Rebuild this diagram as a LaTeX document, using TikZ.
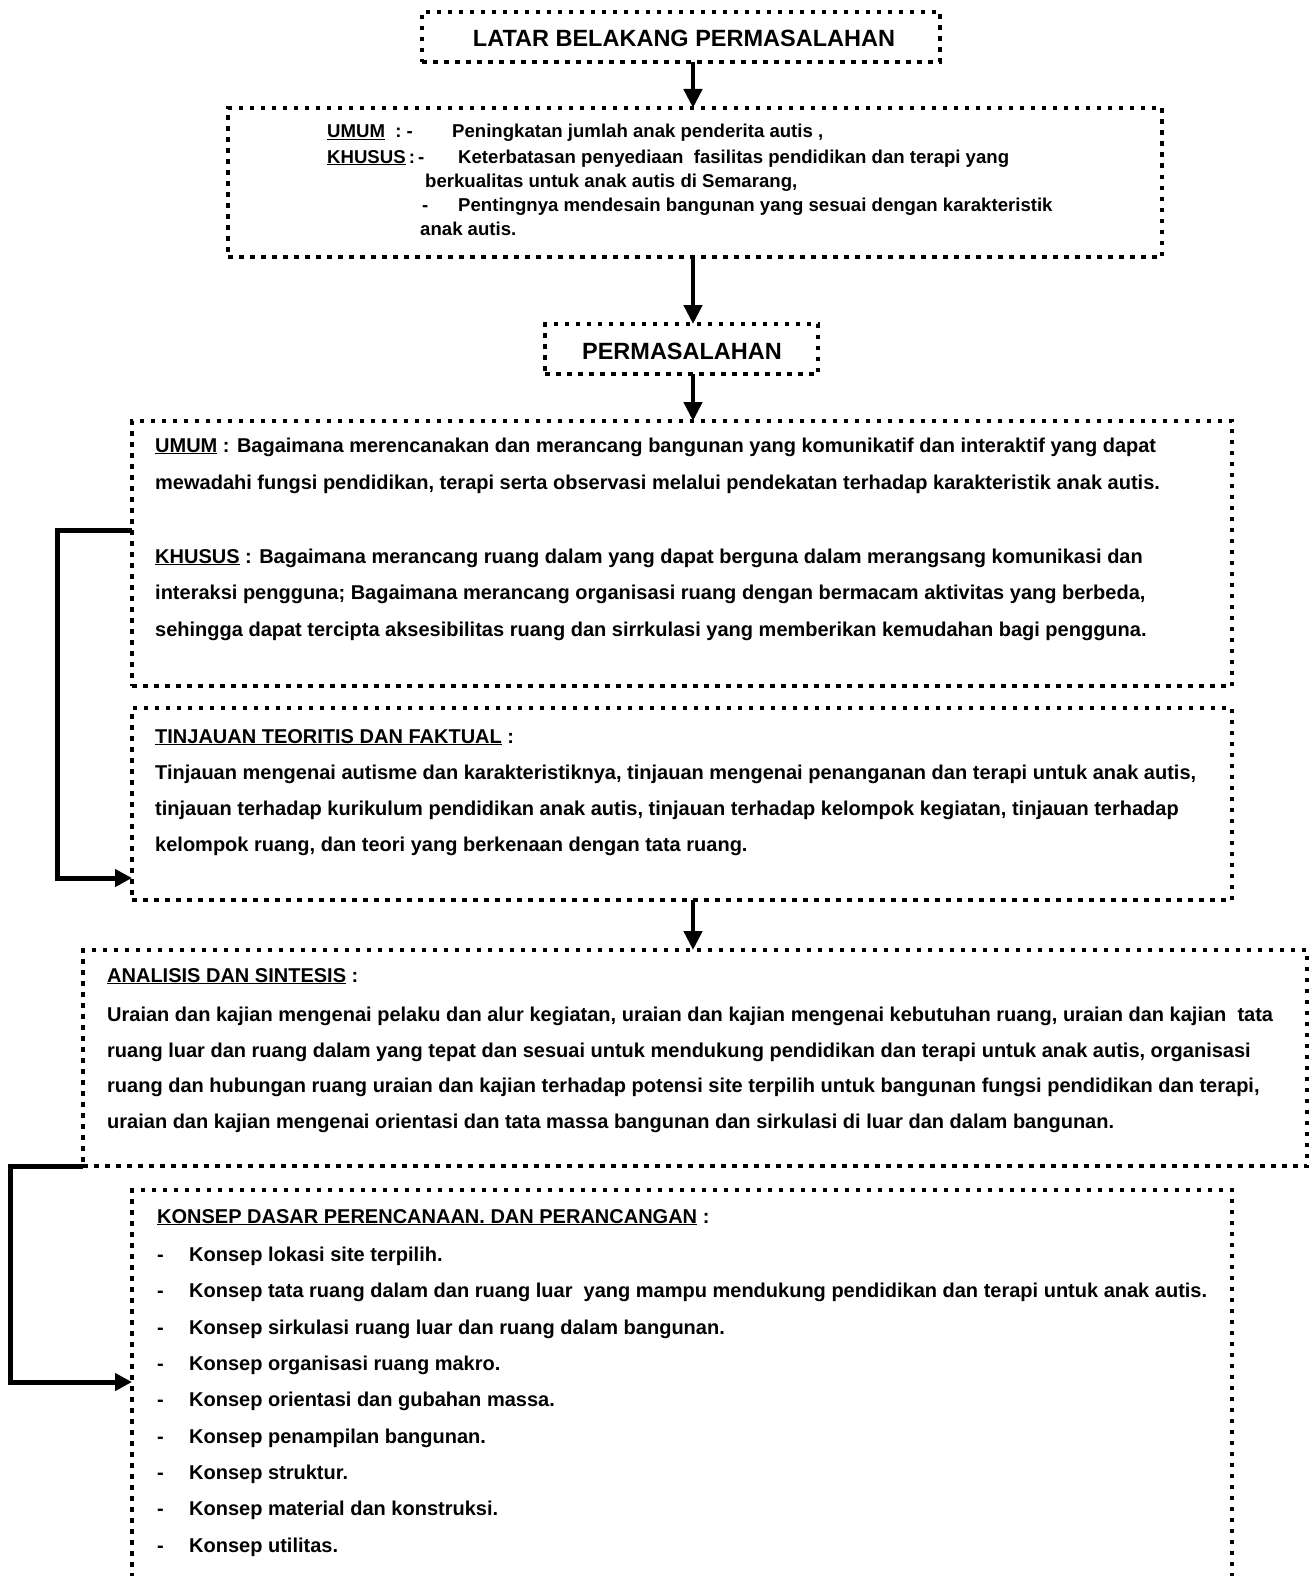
\documentclass[tikz,border=0pt]{standalone}
\usepackage{fontspec}
\setmainfont{Liberation Sans}
\usetikzlibrary{arrows.meta}
\tikzset{
  box/.style={draw, line width=4.5pt, dash pattern=on 4.5pt off 6.5pt, rectangle, inner sep=0pt, outer sep=0pt, anchor=north west},
  txt/.style={anchor=base west, inner sep=0pt, font=\fontsize{20}{24}\selectfont\bfseries},
  txts/.style={anchor=base west, inner sep=0pt, font=\fontsize{18.6}{22}\selectfont\bfseries},
  ttl/.style={anchor=base, inner sep=0pt, font=\fontsize{23.5}{27}\selectfont\bfseries},
  arr/.style={line width=4.5pt, -{Triangle[width=18pt,length=19pt]}},
  side/.style={line width=5pt, -{Triangle[width=17pt,length=17pt]}}
}
\begin{document}
\begin{tikzpicture}[x=1pt,y=-1pt]
\useasboundingbox (0,0) rectangle (1312,1576);
% boxes
\node[box, minimum width=518pt, minimum height=50pt] (b1) at (422,12) {};
\node[box, minimum width=934pt, minimum height=149pt] (b2) at (228,108) {};
\node[box, minimum width=273pt, minimum height=50pt] (b3) at (545,324) {};
\node[box, minimum width=1100pt, minimum height=265pt] (b4) at (132,421) {};
\node[box, minimum width=1100pt, minimum height=192pt] (b5) at (132,708) {};
\node[box, minimum width=1224pt, minimum height=216pt] (b6) at (83,950) {};
\node[box, minimum width=1100pt, minimum height=420pt] (b7) at (132,1190) {};
\coordinate (ax) at (693,0);
\coordinate (c1) at (0,530);
\coordinate (c2) at (0,878);
\coordinate (c3) at (0,1382);
% titles
\node[ttl] (t1) at (684,47) {LATAR BELAKANG PERMASALAHAN};
\node[ttl] (t3) at (682,359) {PERMASALAHAN};
% box 2
\node[txts] (u1) at (327,138) {\underline{UMUM}\ \ :\ -};
\node[txts] (u2) at (452,138) {Peningkatan jumlah anak penderita autis ,};
\node[txts] (k1) at (327,163) {\underline{KHUSUS}\,:\,-};
\node[txts] (k2) at (458,163) {Keterbatasan penyediaan\ \ fasilitas pendidikan dan terapi yang};
\node[txts] (k3) at (425,187) {berkualitas untuk anak autis di Semarang,};
\node[txts] (k4) at (422,211) {-};
\node[txts] (k5) at (458,211) {Pentingnya mendesain bangunan yang sesuai dengan karakteristik};
\node[txts] (k6) at (420,235) {anak autis.};
% box 4
\node[txt] (p1) at (155,452) {\underline{UMUM} : Bagaimana merencanakan dan merancang bangunan yang komunikatif dan interaktif yang dapat};
\node[txt] (p2) at (155,489) {mewadahi fungsi pendidikan, terapi serta observasi melalui pendekatan terhadap karakteristik anak autis.};
\node[txt] (p3) at (155,563) {\underline{KHUSUS} : Bagaimana merancang ruang dalam yang dapat berguna dalam merangsang komunikasi dan};
\node[txt] (p4) at (155,599) {interaksi pengguna; Bagaimana merancang organisasi ruang dengan bermacam aktivitas yang berbeda,};
\node[txt] (p5) at (155,636) {sehingga dapat tercipta aksesibilitas ruang dan sirrkulasi yang memberikan kemudahan bagi pengguna.};
% box 5
\node[txt] (q1) at (155,743) {\underline{TINJAUAN TEORITIS DAN FAKTUAL} :};
\node[txt] (q2) at (155,779) {Tinjauan mengenai autisme dan karakteristiknya, tinjauan mengenai penanganan dan terapi untuk anak autis,};
\node[txt] (q3) at (155,815) {tinjauan terhadap kurikulum pendidikan anak autis, tinjauan terhadap kelompok kegiatan, tinjauan terhadap};
\node[txt] (q4) at (155,851) {kelompok ruang, dan teori yang berkenaan dengan tata ruang.};
% box 6
\node[txt] (r1) at (107,982) {\underline{ANALISIS DAN SINTESIS} :};
\node[txt] (r2) at (107,1021) {Uraian dan kajian mengenai pelaku dan alur kegiatan, uraian dan kajian mengenai kebutuhan ruang, uraian dan kajian\ \ tata};
\node[txt] (r3) at (107,1057) {ruang luar dan\ ruang dalam yang tepat dan sesuai untuk\ mendukung pendidikan dan terapi untuk anak autis, organisasi};
\node[txt] (r4) at (107,1092) {ruang dan hubungan ruang uraian dan kajian terhadap potensi site terpilih untuk bangunan fungsi pendidikan dan terapi,};
\node[txt] (r5) at (107,1128) {uraian dan kajian mengenai orientasi dan tata massa bangunan dan sirkulasi di luar dan dalam bangunan.};
% box 7
\node[txt] (s0) at (157,1223) {\underline{KONSEP DASAR PERENCANAAN. DAN PERANCANGAN} :};
\node[txt] (d1) at (157,1261) {-};
\node[txt] (s1) at (189,1261) {Konsep lokasi site terpilih.};
\node[txt] (d2) at (157,1297) {-};
\node[txt] (s2) at (189,1297) {Konsep tata ruang dalam dan ruang luar\ \ yang mampu mendukung pendidikan dan terapi untuk anak autis.};
\node[txt] (d3) at (157,1334) {-};
\node[txt] (s3) at (189,1334) {Konsep sirkulasi ruang luar dan ruang dalam bangunan.};
\node[txt] (d4) at (157,1370) {-};
\node[txt] (s4) at (189,1370) {Konsep organisasi ruang makro.};
\node[txt] (d5) at (157,1406) {-};
\node[txt] (s5) at (189,1406) {Konsep orientasi dan gubahan massa.};
\node[txt] (d6) at (157,1443) {-};
\node[txt] (s6) at (189,1443) {Konsep penampilan bangunan.};
\node[txt] (d7) at (157,1479) {-};
\node[txt] (s7) at (189,1479) {Konsep struktur.};
\node[txt] (d8) at (157,1515) {-};
\node[txt] (s8) at (189,1515) {Konsep material dan konstruksi.};
\node[txt] (d9) at (157,1552) {-};
\node[txt] (s9) at (189,1552) {Konsep utilitas.};
% arrows
\draw[arr] (b1.south -| ax) -- (b2.north -| ax);
\draw[arr] (b2.south -| ax) -- (b3.north -| ax);
\draw[arr] (b3.south -| ax) -- (b4.north -| ax);
\draw[arr] (b5.south -| ax) -- (b6.north -| ax);
\draw[side] (b4.west |- c1) -- ++(-75,0) |- (b5.west |- c2);
\draw[side] (b6.south west) -- ++(-73,0) |- (b7.west |- c3);
\end{tikzpicture}
\end{document}
